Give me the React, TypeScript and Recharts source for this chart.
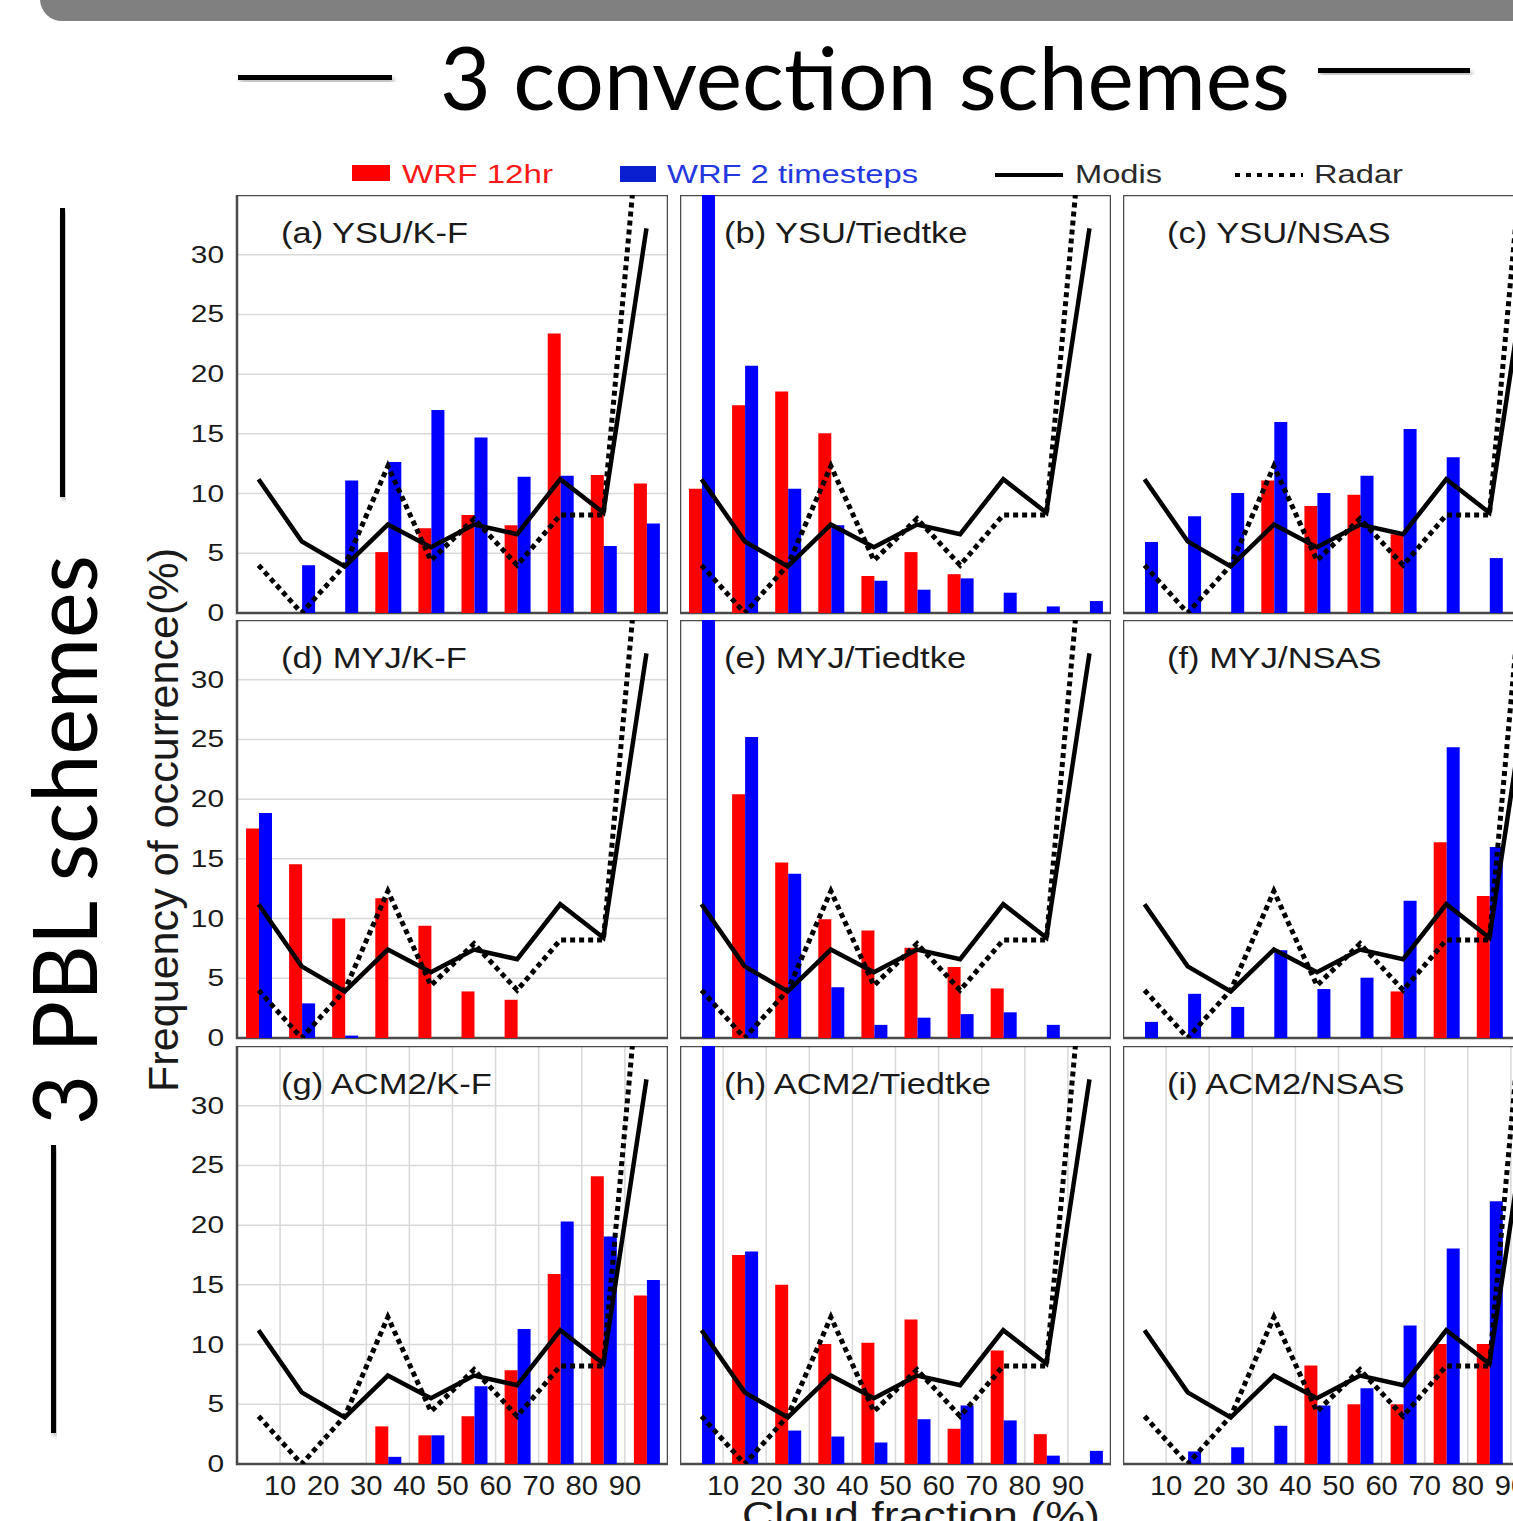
import React from "react";
import {
  ComposedChart,
  Bar,
  Line,
  XAxis,
  YAxis,
  CartesianGrid,
  ReferenceArea,
} from "recharts";

// cloud fraction bins (%), one bar pair per bin
const bins = ["0-10", "10-20", "20-30", "30-40", "40-50", "50-60", "60-70", "70-80", "80-90", "90-100"];
const binMid = [5, 15, 25, 35, 45, 55, 65, 75, 85, 95];
const xTicks = [10, 20, 30, 40, 50, 60, 70, 80, 90];
const yTicks = [0, 5, 10, 15, 20, 25, 30];

// observations, same in every panel
const modis = [11.2, 6.0, 3.9, 7.4, 5.5, 7.4, 6.6, 11.2, 8.4, 32.2];
const radar = [4.0, 0.0, 4.0, 12.3, 4.4, 7.9, 4.0, 8.2, 8.2, 48];

// WRF 12hr (red) and WRF 2 timesteps (blue), frequency of occurrence (%)
const wrf12hrA = [0, 0, 0, 5.1, 7.1, 8.2, 7.35, 23.4, 11.55, 10.85];
const wrf2stepA = [0, 4.0, 11.1, 12.65, 17.0, 14.7, 11.4, 11.5, 5.6, 7.5];
const wrf12hrB = [10.4, 17.4, 18.55, 15.05, 3.1, 5.1, 3.25, 0, 0, 0];
const wrf2stepB = [40, 20.7, 10.4, 7.35, 2.7, 1.95, 2.9, 1.7, 0.55, 1.0];
const wrf12hrC = [0, 0, 0, 11.1, 8.95, 9.9, 6.6, 0, 0, null];
const wrf2stepC = [5.95, 8.1, 10.05, 16.0, 10.05, 11.5, 15.4, 13.05, 4.6, null];
const wrf12hrD = [17.55, 14.55, 10.0, 11.7, 9.4, 3.9, 3.2, 0, 0, 0];
const wrf2stepD = [18.85, 2.9, 0.2, 0, 0, 0, 0, 0, 0, 0];
const wrf12hrE = [0, 20.4, 14.7, 9.95, 9.0, 7.55, 5.95, 4.15, 0, 0];
const wrf2stepE = [40, 25.2, 13.75, 4.25, 1.1, 1.7, 2.0, 2.15, 1.1, 0];
const wrf12hrF = [0, 0, 0, 0, 0, 0, 3.9, 16.4, 11.9, null];
const wrf2stepF = [1.35, 3.7, 2.6, 7.35, 4.1, 5.05, 11.5, 24.35, 16.0, null];
const wrf12hrG = [0, 0, 0, 3.15, 2.4, 4.0, 7.85, 15.9, 24.1, 14.1];
const wrf2stepG = [0, 0, 0, 0.6, 2.4, 6.5, 11.3, 20.3, 19.05, 15.4];
const wrf12hrH = [0, 17.5, 15.0, 10.05, 10.15, 12.1, 2.95, 9.5, 2.5, 0];
const wrf2stepH = [40, 17.8, 2.8, 2.3, 1.8, 3.75, 4.9, 3.65, 0.7, 1.1];
const wrf12hrI = [0, 0, 0, 0, 8.25, 5.0, 5.0, 10.05, 10.05, null];
const wrf2stepI = [0, 1.05, 1.4, 3.2, 4.9, 6.35, 11.6, 18.05, 22.0, null];

const panelTitles = [
  "(a) YSU/K-F",
  "(b) YSU/Tiedtke",
  "(c) YSU/NSAS",
  "(d) MYJ/K-F",
  "(e) MYJ/Tiedtke",
  "(f) MYJ/NSAS",
  "(g) ACM2/K-F",
  "(h) ACM2/Tiedtke",
  "(i) ACM2/NSAS",
];
const panelRed = [wrf12hrA, wrf12hrB, wrf12hrC, wrf12hrD, wrf12hrE, wrf12hrF, wrf12hrG, wrf12hrH, wrf12hrI];
const panelBlue = [wrf2stepA, wrf2stepB, wrf2stepC, wrf2stepD, wrf2stepE, wrf2stepF, wrf2stepG, wrf2stepH, wrf2stepI];

// layout
const PLOT_W = 431;
const PLOT_H = 418;
const colLeft = [237, 680, 1123];
const rowTop = [195, 620, 1046];
const Y_AXIS_W = 70;
const X_AXIS_H = 50;
const FONT = '"Liberation Sans", Arial, sans-serif';

const XTick = (props: any) => {
  const { x, payload } = props;
  return (
    <text
      transform={`translate(${x},${PLOT_H + 31}) scale(1.08,1)`}
      textAnchor="middle"
      fontSize={27}
      fontFamily={FONT}
      fill="#1a1a1a"
    >
      {payload.value}
    </text>
  );
};

const YTick = (props: any) => {
  const { y, payload } = props;
  return (
    <text
      transform={`translate(${Y_AXIS_W - 13},${y + 8}) scale(1.3,1)`}
      textAnchor="end"
      fontSize={23}
      fontFamily={FONT}
      fill="#1a1a1a"
    >
      {payload.value}
    </text>
  );
};

// tick marks only, no label
const NoLabel = () => <g />;

function Panel({ idx }: { idx: number }) {
  const col = idx % 3;
  const row = Math.floor(idx / 3);
  const showY = col === 0;
  const showX = row === 2;
  const yw = showY ? Y_AXIS_W : 0;
  const xh = showX ? X_AXIS_H : 16;
  const red = panelRed[idx];
  const blue = panelBlue[idx];
  const data = bins.map((b, i) => ({
    bin: b,
    mid: binMid[i],
    wrf12: red[i],
    wrf2: blue[i],
    modis: modis[i],
    radar: radar[i],
  }));

  return (
    <div style={{ position: "absolute", left: colLeft[col] - yw, top: rowTop[row] }}>
      <ComposedChart
        width={PLOT_W + yw}
        height={PLOT_H + xh}
        data={data}
        margin={{ top: 0, right: 0, bottom: 0, left: 0 }}
        barSize={13}
        barGap={0}
      >
        <CartesianGrid xAxisId="num" yAxisId="y" stroke="#d9d9d9" strokeWidth={1.5} />
        <XAxis xAxisId="cat" dataKey="bin" type="category" hide />
        <XAxis
          xAxisId="num"
          dataKey="mid"
          type="number"
          domain={[0, 100]}
          ticks={xTicks}
          interval={0}
          height={xh}
          axisLine={false}
          tickLine={false}
          tick={showX ? <XTick /> : false}
        />
        <XAxis
          xAxisId="top"
          orientation="top"
          type="number"
          dataKey="mid"
          domain={[0, 100]}
          ticks={xTicks}
          interval={0}
          height={0}
          mirror
          axisLine={false}
          tickSize={6}
          tickLine={{ stroke: "#555", strokeWidth: 1.5 }}
          tick={<NoLabel />}
        />
        <YAxis
          yAxisId="y"
          domain={[0, 35]}
          ticks={yTicks}
          interval={0}
          allowDataOverflow
          width={yw}
          axisLine={false}
          tickLine={false}
          tick={showY ? <YTick /> : false}
        />
        <YAxis
          yAxisId="right"
          orientation="right"
          domain={[0, 35]}
          ticks={yTicks}
          interval={0}
          width={0}
          mirror
          axisLine={false}
          tickSize={6}
          tickLine={{ stroke: "#555", strokeWidth: 1.5 }}
          tick={<NoLabel />}
        />
        <Bar xAxisId="cat" yAxisId="y" dataKey="wrf12" fill="#ff0000" isAnimationActive={false} />
        <Bar xAxisId="cat" yAxisId="y" dataKey="wrf2" fill="#0000ff" isAnimationActive={false} />
        <Line
          xAxisId="num"
          yAxisId="y"
          dataKey="modis"
          stroke="#000"
          strokeWidth={4.5}
          dot={false}
          activeDot={false}
          isAnimationActive={false}
        />
        <Line
          xAxisId="num"
          yAxisId="y"
          dataKey="radar"
          stroke="#000"
          strokeWidth={5}
          strokeDasharray="5 4"
          dot={false}
          activeDot={false}
          isAnimationActive={false}
        />
        <ReferenceArea
          xAxisId="num"
          yAxisId="y"
          x1={0}
          x2={100}
          y1={0}
          y2={35}
          fill="none"
          stroke="#4a4a4a"
          strokeWidth={2.5}
        />
      </ComposedChart>
    </div>
  );
}

export default function App() {
  return (
    <div
      style={{
        position: "absolute",
        left: 0,
        top: 0,
        width: 1513,
        height: 1521,
        overflow: "hidden",
        background: "#fff",
      }}
    >
      {panelTitles.map((_, i) => (
        <Panel key={i} idx={i} />
      ))}

      <svg
        width={1513}
        height={1521}
        style={{ position: "absolute", left: 0, top: 0, pointerEvents: "none" }}
      >
        <defs>
          <filter id="shade" x="-20%" y="-20%" width="140%" height="160%">
            <feDropShadow dx="2" dy="3" stdDeviation="2" floodColor="#000" floodOpacity="0.3" />
          </filter>
        </defs>

        {/* top banner */}
        <path d="M40,0 H1513 V21 H62 A22,22 0 0 1 40,0 Z" fill="#808080" />

        {/* column heading */}
        <rect x={238} y={75} width={154} height={5} fill="#000" filter="url(#shade)" />
        <rect x={1318} y={68} width={152} height={5} fill="#000" filter="url(#shade)" />
        <text
          x={440}
          y={110}
          fontSize={87}
          fontFamily="Lato, 'Open Sans', sans-serif"
          textLength={850}
          lengthAdjust="spacingAndGlyphs"
          fill="#000"
        >
          3 convection schemes
        </text>

        {/* row heading */}
        <rect x={60} y={208} width={5} height={289} fill="#000" filter="url(#shade)" />
        <rect x={51} y={1145} width={5} height={288} fill="#000" filter="url(#shade)" />
        <text
          transform="translate(97,840) rotate(-90)"
          textAnchor="middle"
          fontSize={89}
          fontFamily="Lato, 'Open Sans', sans-serif"
          textLength={570}
          lengthAdjust="spacingAndGlyphs"
          fill="#000"
        >
          3 PBL schemes
        </text>

        {/* legend */}
        <rect x={352} y={165} width={38} height={16} fill="#ff0000" />
        <text x={402} y={183} fontSize={25} fontFamily={FONT} fill="#ff1a1a" textLength={151} lengthAdjust="spacingAndGlyphs">
          WRF 12hr
        </text>
        <rect x={620} y={166} width={36} height={16} fill="#0a1fd0" />
        <text x={667} y={183} fontSize={25} fontFamily={FONT} fill="#2438e0" textLength={251} lengthAdjust="spacingAndGlyphs">
          WRF 2 timesteps
        </text>
        <line x1={995} y1={175} x2={1063} y2={175} stroke="#000" strokeWidth={4} />
        <text x={1075} y={183} fontSize={25} fontFamily={FONT} fill="#2a2a2a" textLength={87} lengthAdjust="spacingAndGlyphs">
          Modis
        </text>
        <line x1={1235} y1={175} x2={1303} y2={175} stroke="#000" strokeWidth={4} strokeDasharray="5 6" />
        <text x={1314} y={183} fontSize={25} fontFamily={FONT} fill="#2a2a2a" textLength={89} lengthAdjust="spacingAndGlyphs">
          Radar
        </text>

        {/* panel titles */}
        {panelTitles.map((t, i) => (
          <text
            key={t}
            transform={`translate(${colLeft[i % 3] + 44},${rowTop[Math.floor(i / 3)] + 48}) scale(1.15,1)`}
            fontSize={30}
            fontFamily={FONT}
            fill="#1a1a1a"
          >
            {t}
          </text>
        ))}

        {/* axis titles */}
        <text
          transform="translate(178,820) rotate(-90)"
          textAnchor="middle"
          fontSize={42}
          fontFamily={FONT}
          fill="#1a1a1a"
          textLength={544}
          lengthAdjust="spacingAndGlyphs"
        >
          Frequency of occurrence(%)
        </text>
        <text
          x={921}
          y={1528}
          textAnchor="middle"
          fontSize={36}
          fontFamily={FONT}
          fill="#1a1a1a"
          textLength={358}
          lengthAdjust="spacingAndGlyphs"
        >
          Cloud fraction (%)
        </text>
      </svg>
    </div>
  );
}
